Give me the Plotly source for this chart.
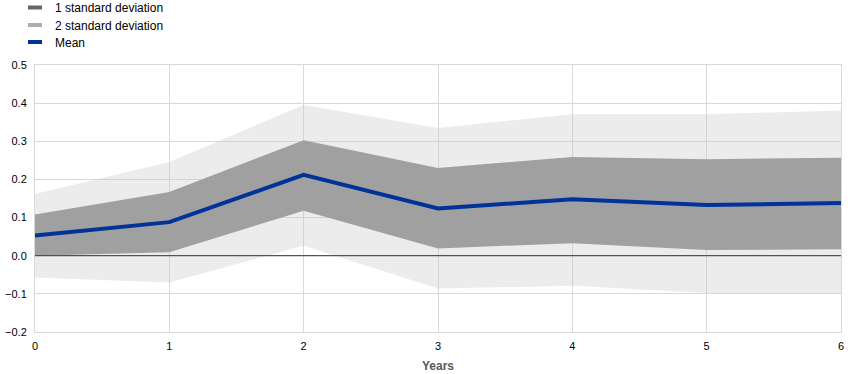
import plotly.graph_objects as go

years = [0, 1, 2, 3, 4, 5, 6]
mean = [0.053, 0.088, 0.212, 0.124, 0.148, 0.133, 0.138]
sd1_upper = [0.108, 0.167, 0.303, 0.230, 0.259, 0.253, 0.257]
sd1_lower = [0.000, 0.009, 0.118, 0.019, 0.033, 0.015, 0.017]
sd2_upper = [0.162, 0.246, 0.395, 0.335, 0.371, 0.371, 0.381]
sd2_lower = [-0.057, -0.070, 0.026, -0.086, -0.079, -0.098, -0.099]
y_ticks = [-0.2, -0.1, 0.0, 0.1, 0.2, 0.3, 0.4, 0.5]
legend_names = ["1 standard deviation", "2 standard deviation", "Mean"]

FONT = "Liberation Sans, Arial, sans-serif"
BLUE = "#003299"
W, H = 868, 374

fig = go.Figure()
# 2 standard deviation band
fig.add_trace(go.Scatter(x=years, y=sd2_lower, mode="lines", line=dict(width=0),
                         showlegend=False, hoverinfo="skip"))
fig.add_trace(go.Scatter(x=years, y=sd2_upper, mode="lines", line=dict(width=0),
                         fill="tonexty", fillcolor="rgba(200,200,200,0.35)",
                         showlegend=False, hoverinfo="skip"))
# 1 standard deviation band
fig.add_trace(go.Scatter(x=years, y=sd1_lower, mode="lines", line=dict(width=0),
                         showlegend=False, hoverinfo="skip"))
fig.add_trace(go.Scatter(x=years, y=sd1_upper, mode="lines", line=dict(width=0),
                         fill="tonexty", fillcolor="#a0a0a0",
                         showlegend=False, hoverinfo="skip"))
# Mean
fig.add_trace(go.Scatter(x=years, y=mean, mode="lines", line=dict(color=BLUE, width=4),
                         showlegend=False))

# legend entries, one legend each for exact spacing
legend_cols = ["#666666", "#adadad", BLUE]
legend_ys = [7.5, 25, 42]
legend_ids = ["legend", "legend2", "legend3"]
for name, col, lid in zip(legend_names, legend_cols, legend_ids):
    fig.add_trace(go.Scatter(x=[None], y=[None], mode="markers", name=name, legend=lid,
                             marker=dict(symbol="line-ew-open", size=10, color=col,
                                         line=dict(color=col, width=4))))

fig.add_shape(type="line", xref="paper", x0=0, x1=1, yref="y", y0=0, y1=0,
              line=dict(color="#333333", width=1), layer="above")

legend_common = dict(xref="container", yref="container", x=15 / W,
                     xanchor="left", yanchor="middle", orientation="v",
                     font=dict(size=12, color="#000000"),
                     bgcolor="rgba(0,0,0,0)", itemwidth=30)
layout_legends = {}
for lid, ly in zip(legend_ids, legend_ys):
    layout_legends[lid] = dict(legend_common, y=1 - ly / H)

fig.update_layout(
    width=W, height=H,
    margin=dict(l=35, r=27, t=65, b=42, autoexpand=False),
    paper_bgcolor="white", plot_bgcolor="white",
    font=dict(family=FONT, size=12, color="#000000"),
    xaxis=dict(range=[0, 6], tickvals=years, showgrid=True, gridcolor="#d9d9d9",
               showline=True, linecolor="#d9d9d9", mirror=True, zeroline=False,
               ticks="", ticklabelstandoff=4, tickfont=dict(size=11, color="#000000"),
               title=dict(text="<b>Years</b>", font=dict(size=12, color="#595959"), standoff=10)),
    yaxis=dict(range=[-0.2, 0.5], tickvals=y_ticks, tickformat=".1f", showgrid=True,
               gridcolor="#d9d9d9", showline=True, linecolor="#d9d9d9", mirror=True,
               zeroline=False, ticks="", ticklabelstandoff=5,
               tickfont=dict(size=11, color="#000000")),
    **layout_legends,
)

fig.write_html("out.html", config={"displayModeBar": False},
               post_script="document.body.style.margin='0px';")
